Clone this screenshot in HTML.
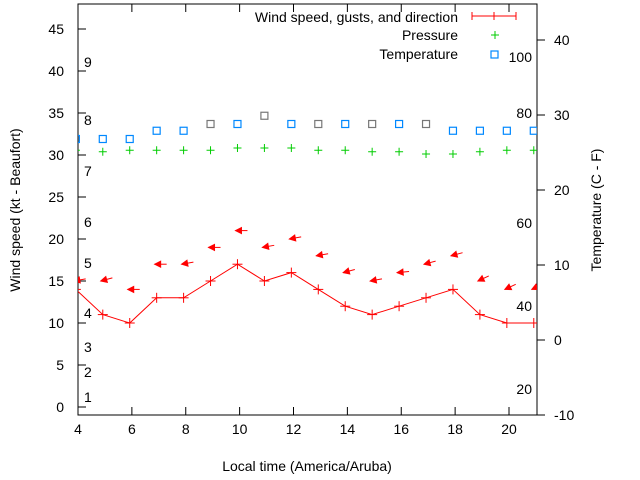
<!DOCTYPE html>
<html><head><meta charset="utf-8"><style>
body{margin:0;background:#fff}
svg{display:block;font-family:"Liberation Sans",sans-serif;font-size:14px}
</style></head><body>
<svg id="c" width="640" height="480" viewBox="0 0 640 480">
<defs><clipPath id="clip"><rect x="78" y="4" width="459" height="411"/></clipPath></defs>
<g id="axes"></g>
<g id="marks" clip-path="url(#clip)"></g>
<g id="legend">
<text x="458" y="22" text-anchor="end">Wind speed, gusts, and direction</text>
<g stroke="#f00"><line x1="472" y1="16" x2="516" y2="16"/><line x1="472" y1="12" x2="472" y2="20"/><line x1="494" y1="12" x2="494" y2="20"/><line x1="516" y1="12" x2="516" y2="20"/></g>
<text x="458" y="40" text-anchor="end">Pressure</text>
<g stroke="#0c0"><line x1="491" y1="35" x2="499" y2="35"/><line x1="495" y1="31" x2="495" y2="39"/></g>
<text x="458" y="59" text-anchor="end">Temperature</text>
<rect x="491" y="51" width="7" height="7" fill="none" stroke="#08f" stroke-width="1.2"/>
</g>
</svg>
<script>
const hours=[3.92,4.92,5.92,6.92,7.92,8.92,9.92,10.92,11.92,12.92,13.92,14.92,15.92,16.92,17.92,18.92,19.92,20.92];
const wind=[14,11,10,13,13,15,17,15,16,14,12,11,12,13,14,11,10,10];
const gust=[15,15,14,17,17,19,21,19,20,18,16,15,16,17,18,15,14,14];
const dirDeg=[80,75,90,90,80,90,90,80,80,80,75,80,85,75,75,65,65,65];
const pressure=[25.3,25.1,25.3,25.3,25.3,25.3,25.6,25.6,25.6,25.3,25.3,25.1,25.1,24.8,24.8,25.1,25.3,25.3];
const temp=[26.8,26.8,26.8,27.9,27.9,28.8,28.8,29.9,28.8,28.8,28.8,28.8,28.8,28.8,27.9,27.9,27.9,27.9];
const tempGrey=[0,0,0,0,0,1,0,1,0,1,0,1,0,1,0,0,0,0];
const xTicks=[4,6,8,10,12,14,16,18,20];
const yTicks=[0,5,10,15,20,25,30,35,40,45];
const y2Ticks=[-10,0,10,20,30,40];
const beaufort=[[1,397],[2,372],[3,347],[4,313],[5,263],[6,222],[7,171],[8,120],[9,62]];
const innerLabels=[["100",57],["80",113],["60",223],["40",306],["20",389]];
const L=78,R=537,T=4,B=415;
const X=v=>L+(v-4)*(509-78)/16;
const Y=v=>407-v*8.4;
const Y2=v=>415-(v+10)*7.5;
const NS="http://www.w3.org/2000/svg";
function mk(p,tag,a){const e=document.createElementNS(NS,tag);for(const k in a)e.setAttribute(k,a[k]);p.appendChild(e);return e;}
const ax=document.getElementById('axes'),mg=document.getElementById('marks');
let e=mk(ax,'rect',{x:L,y:T,width:R-L,height:B-T,fill:'none',stroke:'#000'});


xTicks.forEach(t=>{const x=X(t);
mk(ax,'line',{x1:x,y1:B,x2:x,y2:B-8,stroke:'#000'});mk(ax,'line',{x1:x,y1:T,x2:x,y2:T+8,stroke:'#000'});
const tx=mk(ax,'text',{x:x,y:B+19,'text-anchor':'middle'});tx.textContent=t;

});
yTicks.forEach(t=>{const y=Y(t);
mk(ax,'line',{x1:L,y1:y,x2:L+8,y2:y,stroke:'#000'});
const tx=mk(ax,'text',{x:L-14,y:y+5,'text-anchor':'end'});tx.textContent=t;

});
y2Ticks.forEach(t=>{const y=Y2(t);
mk(ax,'line',{x1:R,y1:y,x2:R+8,y2:y,stroke:'#000'});
const tx=mk(ax,'text',{x:R+17,y:y+5,'text-anchor':'start'});tx.textContent=t;

});
beaufort.forEach(b=>{const tx=mk(ax,'text',{x:84,y:b[1]+5});tx.textContent=b[0];

});
innerLabels.forEach(b=>{const tx=mk(ax,'text',{x:532,y:b[1]+5,'text-anchor':'end'});tx.textContent=b[0];

});
let t1=mk(ax,'text',{x:307,y:471,'text-anchor':'middle'});t1.textContent='Local time (America/Aruba)';


let t2=mk(ax,'text',{x:0,y:0,'text-anchor':'middle',transform:'translate(20,210) rotate(-90)'});t2.textContent='Wind speed (kt - Beaufort)';


let t3=mk(ax,'text',{x:0,y:0,'text-anchor':'middle',transform:'translate(601,210) rotate(-90)'});t3.textContent='Temperature (C - F)';


// wind line
let pl=mk(mg,'polyline',{points:hours.map((h,i)=>X(h)+','+Y(wind[i])).join(' '),fill:'none',stroke:'#f00'});


hours.forEach((h,i)=>{const x=X(h),y=Y(wind[i]);
const g=mk(mg,'g',{stroke:'#f00'});


mk(g,'line',{x1:x-5,y1:y,x2:x+5,y2:y});mk(g,'line',{x1:x,y1:y-5,x2:x,y2:y+5});
// gust arrow
const gx=X(h)-2,gy=Y(gust[i]),a=dirDeg[i]*Math.PI/180;
const dx=Math.sin(a)*12,dy=-Math.cos(a)*12;
const ag=mk(mg,'g',{stroke:'#f00',fill:'#f00'});


mk(ag,'line',{x1:gx,y1:gy,x2:gx+dx,y2:gy+dy});
const ux=dx/12,uy=dy/12,px=-uy,py=ux;
mk(ag,'polygon',{points:`${gx},${gy} ${gx+ux*6+px*3},${gy+uy*6+py*3} ${gx+ux*6-px*3},${gy+uy*6-py*3}`});
// pressure
const py2=Y2(pressure[i]);
const pg=mk(mg,'g',{stroke:'#0c0'});


mk(pg,'line',{x1:x-4,y1:py2,x2:x+4,y2:py2});mk(pg,'line',{x1:x,y1:py2-4,x2:x,y2:py2+4});
// temperature
const ty=Y2(temp[i]);
const r=mk(mg,'rect',{x:x-3.5,y:ty-3.5,width:7,height:7,fill:'none',stroke:tempGrey[i]?'#777':'#08f','stroke-width':1.2});


});
</script>
</body></html>
